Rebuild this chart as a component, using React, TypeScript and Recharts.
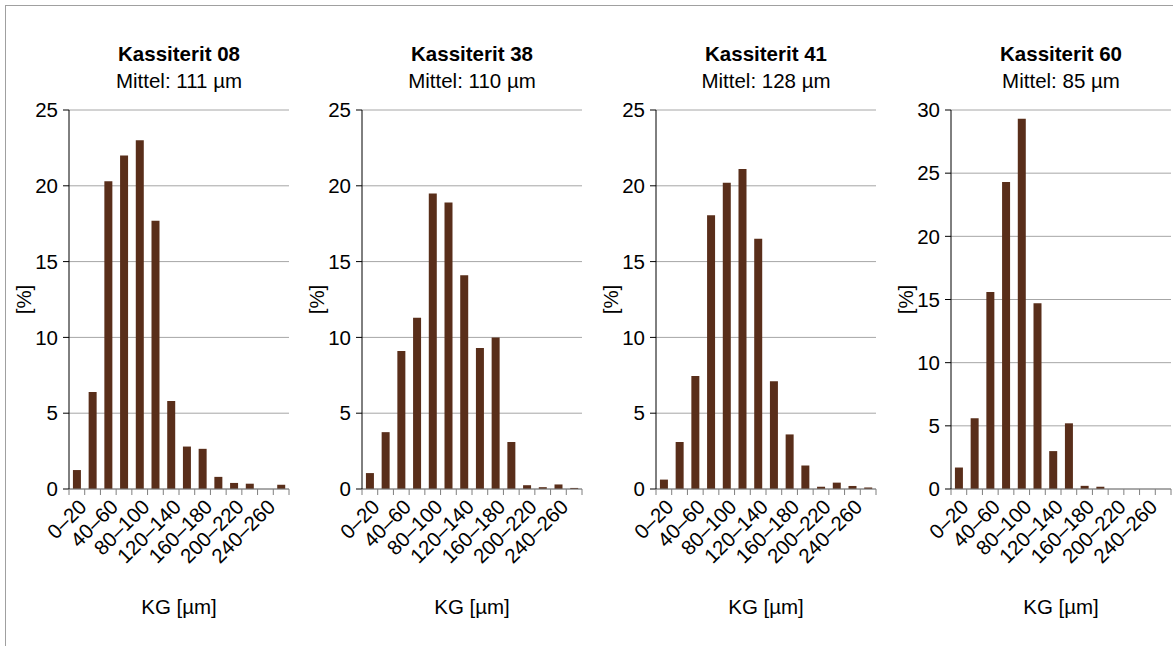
import React from 'react';
import { BarChart, Bar, XAxis, YAxis, CartesianGrid, Label } from 'recharts';

const categories = ['0–20', '20–40', '40–60', '60–80', '80–100', '100–120', '120–140', '140–160', '160–180', '180–200', '200–220', '220–240', '240–260', '260–280'];

const titles = ['Kassiterit 08', 'Kassiterit 38', 'Kassiterit 41', 'Kassiterit 60'];
const means = ['Mittel: 111 µm', 'Mittel: 110 µm', 'Mittel: 128 µm', 'Mittel: 85 µm'];

const k08 = [1.25, 6.4, 20.3, 22.0, 23.0, 17.7, 5.8, 2.8, 2.65, 0.8, 0.4, 0.35, 0, 0.28];
const k38 = [1.05, 3.75, 9.1, 11.3, 19.5, 18.9, 14.1, 9.3, 10.0, 3.1, 0.25, 0.12, 0.3, 0.07];
const k41 = [0.62, 3.1, 7.45, 18.05, 20.2, 21.1, 16.5, 7.1, 3.6, 1.55, 0.15, 0.42, 0.2, 0.1];
const k60 = [1.7, 5.6, 15.6, 24.3, 29.3, 14.7, 3.0, 5.2, 0.25, 0.18, 0, 0, 0, 0];

const yTicks25 = [0, 5, 10, 15, 20, 25];
const yTicks30 = [0, 5, 10, 15, 20, 25, 30];

const yAxisLabel = '[%]';
const xAxisLabel = 'KG [µm]';

const seriesList = [k08, k38, k41, k60];
const tickList = [yTicks25, yTicks25, yTicks25, yTicks30];

const FONT = '"Liberation Sans", Arial, sans-serif';
const FS = 20.5;
const BAR_COLOR = '#592e1a';
const PLOT_LEFTS = [69, 362, 656, 951];
const PLOT_W = 220;
const Y_AXIS_W = 70;
const CHART_W = 300;
const CHART_H = 646;
const PLOT_TOP = 110;
const X_AXIS_H = 127;
const BOTTOM = 30;
const BW = PLOT_W / categories.length;

function XTick(props: any) {
  const { x, y, payload, index } = props;
  const items: any[] = [];
  items.push(<line key="t" x1={x - BW / 2} x2={x - BW / 2} y1={y} y2={y + 6} stroke="#7f7f7f" />);
  if (index === categories.length - 1) {
    items.push(<line key="t2" x1={x + BW / 2} x2={x + BW / 2} y1={y} y2={y + 6} stroke="#7f7f7f" />);
  }
  if (index % 2 === 0) {
    const tx = x + 6;
    const ty = y + 14;
    items.push(
      <text key="l" x={tx} y={ty} transform={`rotate(-45 ${tx} ${ty})`} textAnchor="end" dy="0.35em"
        fill="#000" fontSize={FS} fontFamily={FONT}>{payload.value}</text>
    );
  }
  return <g>{items}</g>;
}

function YLabel(props: any) {
  const { x, y, width, height } = props.viewBox;
  const cx = x + width - 46;
  const cy = y + height / 2;
  return (
    <text x={cx} y={cy} transform={`rotate(-90 ${cx} ${cy})`} textAnchor="middle" dominantBaseline="central"
      fill="#000" fontSize={FS} fontFamily={FONT}>{yAxisLabel}</text>
  );
}

function XLabel(props: any) {
  const { x, y, width } = props.viewBox;
  const cx = x + width / 2;
  const cy = y + 117;
  return (
    <text x={cx} y={cy} textAnchor="middle" dominantBaseline="central"
      fill="#000" fontSize={FS} fontFamily={FONT}>{xAxisLabel}</text>
  );
}

function Panel({ idx }: { idx: number }) {
  const values = seriesList[idx];
  const ticks = tickList[idx];
  const data = categories.map((c, i) => ({ cat: c, v: values[i] }));
  const left = PLOT_LEFTS[idx] - Y_AXIS_W;
  return (
    <div style={{ position: 'absolute', left, top: 0, width: CHART_W, height: CHART_H }}>
      <div style={{ position: 'absolute', left: Y_AXIS_W - 20, width: PLOT_W + 40, top: 39.5, textAlign: 'center', fontFamily: FONT, fontSize: FS, lineHeight: '27px', color: '#000', whiteSpace: 'nowrap' }}>
        <div style={{ fontWeight: 'bold' }}>{titles[idx]}</div>
        <div>{means[idx]}</div>
      </div>
      <BarChart width={CHART_W} height={CHART_H} data={data}
        margin={{ top: PLOT_TOP, right: CHART_W - Y_AXIS_W - PLOT_W, bottom: BOTTOM, left: 0 }}
        barCategoryGap="25%">
        <CartesianGrid vertical={false} stroke="#a6a6a6" />
        <XAxis dataKey="cat" interval={0} height={X_AXIS_H} tickLine={false} tickSize={0} tickMargin={0}
          axisLine={{ stroke: '#7f7f7f' }} tick={<XTick />}>
          <Label content={<XLabel />} />
        </XAxis>
        <YAxis width={Y_AXIS_W} domain={[0, ticks[ticks.length - 1]]} ticks={ticks} interval={0}
          axisLine={{ stroke: '#000' }} tickLine={{ stroke: '#000' }} tickSize={6} tickMargin={5}
          tick={{ fill: '#000', fontSize: FS, fontFamily: FONT }}>
          <Label content={<YLabel />} />
        </YAxis>
        <Bar dataKey="v" fill={BAR_COLOR} isAnimationActive={false} />
      </BarChart>
    </div>
  );
}

export default function App() {
  return (
    <div style={{ position: 'absolute', left: 0, top: 0, width: 1173, height: 646, overflow: 'hidden', background: '#fff' }}>
      <div style={{ position: 'absolute', left: 5, top: 5, width: 1300, height: 800, borderTop: '1px solid #a0a0a0', borderLeft: '1px solid #a0a0a0' }} />
      {[0, 1, 2, 3].map((i) => <Panel key={i} idx={i} />)}
    </div>
  );
}
